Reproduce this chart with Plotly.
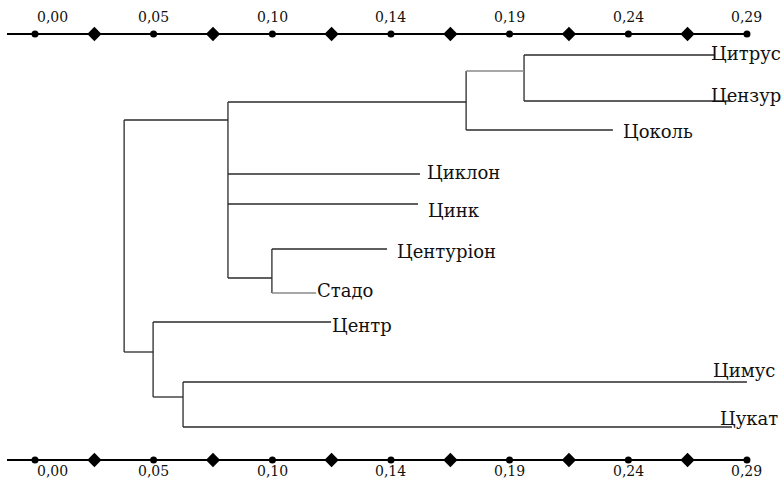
import plotly.graph_objects as go

# ---- data ----
leaf_names = ["Цитрус", "Цензур", "Цоколь", "Циклон", "Цинк",
              "Центуріон", "Стадо", "Центр", "Цимус", "Цукат"]
leaf_dist = [0.2766, 0.2831, 0.2354, 0.1568, 0.1560,
             0.1434, 0.1145, 0.1206, 0.2900, 0.2839]
leaf_row = [55, 101, 130, 174, 204, 249, 293, 322, 382, 427]

label_dist = [0.2754, 0.2754, 0.2395, 0.1597, 0.1601,
              0.1475, 0.1149, 0.1210, 0.2762, 0.2790]
label_row = [53, 95, 131, 172, 210, 251, 290, 325, 370, 418]

node_names = ["F", "B", "C", "A", "E", "D", "R"]
node_dist = [0.1992, 0.1756, 0.0965, 0.0786, 0.0603, 0.0481, 0.0363]
node_children = [["Цитрус", "Цензур"], ["F", "Цоколь"], ["Центуріон", "Стадо"],
                 ["B", "Циклон", "Цинк", "C"], ["Цимус", "Цукат"],
                 ["Центр", "E"], ["A", "D"]]
node_row = [71, 102, 278, 120, 397, 352, None]

tick_vals = [0.0, 0.0483, 0.0967, 0.145, 0.1933, 0.2417, 0.29]
tick_text = ["0,00", "0,05", "0,10", "0,14", "0,19", "0,24", "0,29"]
minor_vals = [0.0242, 0.0725, 0.1208, 0.1692, 0.2175, 0.2658]
axis_start = -0.0114
axis_rows = [34, 460]
tick_label_rows = [17, 471]

# light connectors (drawn grey in the original)
light_segments = [("B", "F"), ("C", "Стадо")]

LABEL_FONT = "DejaVu Serif"
TICK_FONT = "DejaVu Serif"

# ---- build ----
pos = {}
for n, d, r in zip(leaf_names, leaf_dist, leaf_row):
    pos[n] = (d, r)
for n, d, r in zip(node_names, node_dist, node_row):
    pos[n] = (d, r)

fig = go.Figure()
dark = "#2a2a2a"
grey = "#8a8a8a"

for n, d, ch in zip(node_names, node_dist, node_children):
    rows = [pos[c][1] for c in ch]
    fig.add_trace(go.Scatter(x=[d, d], y=[min(rows), max(rows)], mode="lines",
                             line=dict(color=dark, width=1.3), hoverinfo="skip"))
    for c in ch:
        col = grey if (n, c) in light_segments else dark
        fig.add_trace(go.Scatter(x=[d, pos[c][0]], y=[pos[c][1], pos[c][1]],
                                 mode="lines", line=dict(color=col, width=1.3),
                                 hoverinfo="skip"))

for name, x, r in zip(leaf_names, label_dist, label_row):
    fig.add_annotation(x=x, y=r, text=name, showarrow=False, xanchor="left",
                       yanchor="middle", xshift=-2,
                       font=dict(family=LABEL_FONT, size=18, color="#111"))

for ar, lr in zip(axis_rows, tick_label_rows):
    fig.add_trace(go.Scatter(x=[axis_start, tick_vals[-1]], y=[ar, ar], mode="lines",
                             line=dict(color="black", width=2), hoverinfo="skip"))
    fig.add_trace(go.Scatter(x=tick_vals, y=[ar] * len(tick_vals), mode="markers",
                             marker=dict(symbol="circle", size=7, color="black"),
                             hoverinfo="skip"))
    fig.add_trace(go.Scatter(x=minor_vals, y=[ar] * len(minor_vals), mode="markers",
                             marker=dict(symbol="diamond", size=11, color="black"),
                             hoverinfo="skip"))
    for i, (tv, tt) in enumerate(zip(tick_vals, tick_text)):
        fig.add_annotation(x=tv, y=lr, text=tt, showarrow=False,
                           xanchor="left" if i == 0 else "center", yanchor="middle",
                           font=dict(family=TICK_FONT, size=14, color="#111"))

fig.update_layout(
    width=783, height=480, showlegend=False,
    margin=dict(l=0, r=0, t=0, b=0),
    paper_bgcolor="white", plot_bgcolor="white",
    xaxis=dict(range=[-35 / 2455, 748 / 2455], visible=False, fixedrange=True),
    yaxis=dict(range=[480, 0], visible=False, fixedrange=True),
)

fig.write_html("out.html", config={"displayModeBar": False},
               post_script="document.body.style.margin='0';"
                           "document.body.style.overflow='hidden';")
